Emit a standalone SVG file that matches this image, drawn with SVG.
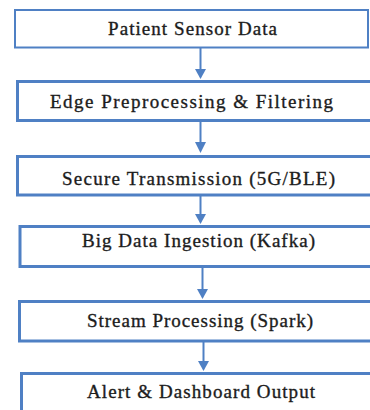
<svg xmlns="http://www.w3.org/2000/svg" width="370" height="410" viewBox="0 0 370 410">
<style>
.box{fill:#fff;stroke:#4f80c4;stroke-width:3}
.thin{stroke-width:2}
.lbl{font-family:"Liberation Serif","Times New Roman",serif;font-size:19px;fill:#1c1c1c;stroke:#1c1c1c;stroke-width:0.35}
.con{stroke:#4f80c4;stroke-width:2;fill:none}
.head{fill:#4f80c4}
</style>
<rect width="370" height="410" fill="#fff"/>
<g id="n1"><rect class="box thin" x="15" y="10" width="353" height="37.5"/><text class="lbl" x="108" y="35" textLength="169" lengthAdjust="spacing">Patient Sensor Data</text></g>
<g id="n2"><rect class="box" x="17.5" y="81.5" width="360" height="39"/><text class="lbl" x="50" y="108" textLength="283" lengthAdjust="spacing">Edge Preprocessing &amp; Filtering</text></g>
<g id="n3"><rect class="box" x="17.5" y="156.5" width="360" height="38.5"/><text class="lbl" x="62" y="185" textLength="273" lengthAdjust="spacing">Secure Transmission (5G/BLE)</text></g>
<g id="n4"><rect class="box" x="20" y="226.5" width="360" height="40"/><text class="lbl" x="82" y="247" textLength="233" lengthAdjust="spacing">Big Data Ingestion (Kafka)</text></g>
<g id="n5"><rect class="box" x="19.5" y="301.5" width="360" height="39.5"/><text class="lbl" x="87" y="327" textLength="226" lengthAdjust="spacing">Stream Processing (Spark)</text></g>
<g id="n6"><rect class="box" x="21.5" y="373.5" width="360" height="50"/><text class="lbl" x="87" y="398" textLength="228" lengthAdjust="spacing">Alert &amp; Dashboard Output</text></g>
<g id="connectors">
<line class="con" x1="200.5" y1="48" x2="200.5" y2="70"/><path class="head" d="M195,69 L206,69 L200.5,79 Z"/>
<line class="con" x1="200.5" y1="121" x2="200.5" y2="143"/><path class="head" d="M195,142 L206,142 L200.5,153 Z"/>
<line class="con" x1="200.5" y1="195" x2="200.5" y2="215"/><path class="head" d="M195,214 L206,214 L200.5,224 Z"/>
<line class="con" x1="202.5" y1="267" x2="202.5" y2="290"/><path class="head" d="M197,289 L208,289 L202.5,299 Z"/>
<line class="con" x1="203.5" y1="341" x2="203.5" y2="362"/><path class="head" d="M198,361 L209,361 L203.5,371 Z"/>
</g>
</svg>
